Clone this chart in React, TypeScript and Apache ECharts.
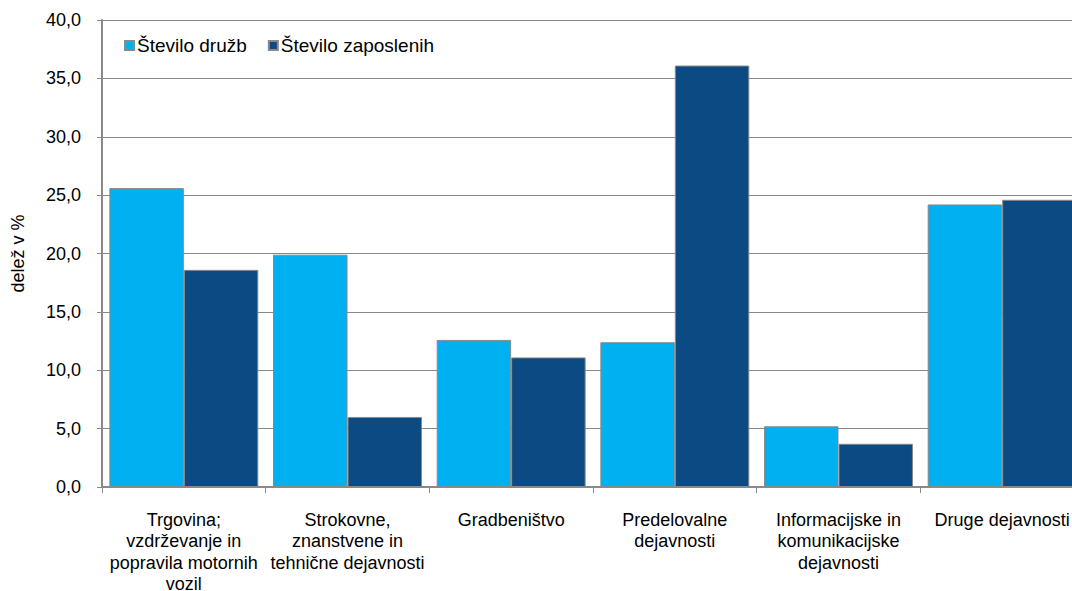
import React, { useEffect, useRef } from "react";
import * as echarts from "echarts";

const categories = [
  "Trgovina;\nvzdrževanje in\npopravila motornih\nvozil",
  "Strokovne,\nznanstvene in\ntehnične dejavnosti",
  "Gradbeništvo",
  "Predelovalne\ndejavnosti",
  "Informacijske in\nkomunikacijske\ndejavnosti",
  "Druge dejavnosti",
];
const seriesNames = ["Število družb", "Število zaposlenih"];
const stDruzb = [25.6, 19.9, 12.6, 12.4, 5.2, 24.2];
const stZaposlenih = [18.6, 6.0, 11.1, 36.1, 3.7, 24.6];
const yMin = 0;
const yMax = 40;
const yStep = 5;
const yName = "delež v %";

const FONT = "'Liberation Sans', Arial, sans-serif";
const GRAY = "#898989";

export default function App() {
  const ref = useRef<HTMLDivElement>(null);
  useEffect(() => {
    if (!ref.current) return;
    const chart = echarts.init(ref.current, null, { renderer: "svg" });
    chart.setOption({
      animation: false,
      backgroundColor: "#ffffff",
      textStyle: { fontFamily: FONT, color: "#000" },
      legend: {
        left: 119,
        top: 31,
        itemWidth: 9,
        itemHeight: 9,
        itemGap: 21,
        icon: "rect",
        textStyle: { fontFamily: FONT, fontSize: 19, color: "#000", padding: [0, 0, 0, -2] },
        data: seriesNames,
      },
      grid: {
        left: 102,
        top: 20,
        width: 982,
        height: 467,
        containLabel: false,
        outerBoundsMode: "none",
      },
      xAxis: {
        type: "category",
        data: categories,
        axisLine: { show: true, lineStyle: { color: GRAY, width: 2 } },
        axisTick: { show: true, length: 6, lineStyle: { color: GRAY } },
        axisLabel: {
          interval: 0,
          margin: 22,
          fontFamily: FONT,
          fontSize: 18,
          lineHeight: 21.5,
          color: "#000",
        },
      },
      yAxis: {
        type: "value",
        min: yMin,
        max: yMax,
        interval: yStep,
        name: yName,
        nameLocation: "middle",
        nameRotate: 90,
        nameGap: 75,
        nameTextStyle: { fontFamily: FONT, fontSize: 18, color: "#000" },
        axisLine: { show: true, lineStyle: { color: GRAY, width: 2 } },
        axisTick: { show: true, length: 5, lineStyle: { color: GRAY } },
        splitLine: { show: true, lineStyle: { color: GRAY, width: 1 } },
        axisLabel: {
          margin: 21,
          fontFamily: FONT,
          fontSize: 18,
          color: "#000",
          formatter: (v: number) => v.toFixed(1).replace(".", ","),
        },
      },
      series: [
        {
          name: seriesNames[0],
          type: "bar",
          data: stDruzb,
          barGap: "0%",
          barCategoryGap: "9%",
          itemStyle: { color: "#00B0F0", borderColor: GRAY, borderWidth: 1 },
        },
        {
          name: seriesNames[1],
          type: "bar",
          data: stZaposlenih,
          barGap: "0%",
          barCategoryGap: "9%",
          itemStyle: { color: "#0B4A82", borderColor: GRAY, borderWidth: 1 },
        },
      ],
    });
    return () => chart.dispose();
  }, []);
  return (
    <div
      style={{
        position: "absolute",
        left: 0,
        top: 0,
        width: 1072,
        height: 591,
        overflow: "hidden",
      }}
    >
      <div ref={ref} style={{ width: 1072, height: 591, overflow: "hidden" }} />
    </div>
  );
}
